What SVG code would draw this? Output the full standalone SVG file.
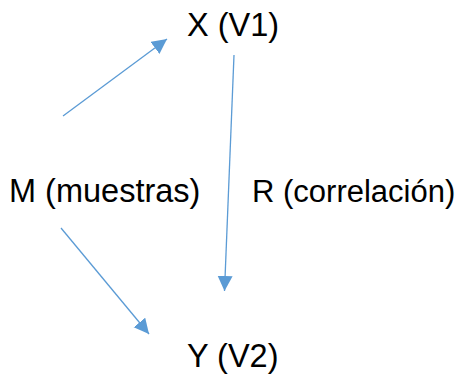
<svg xmlns="http://www.w3.org/2000/svg" width="466" height="375" viewBox="0 0 466 375">
<style>
.lbl{font-family:"Liberation Sans",Arial,sans-serif;font-size:32.5px;fill:#000}
.conn{stroke:#5B9BD5;stroke-width:1.3;fill:none}
</style>
<defs>
<marker id="ah" markerUnits="userSpaceOnUse" markerWidth="16" markerHeight="16" refX="15" refY="7.5" orient="auto" viewBox="0 0 16 16">
<path d="M0,0 L15,7.5 L0,15 z" fill="#5B9BD5"/>
</marker>
</defs>
<rect width="466" height="375" fill="#fff"/>
<g id="connectors">
<line class="conn" x1="63" y1="116" x2="167" y2="39" marker-end="url(#ah)"/>
<line class="conn" x1="234" y1="55" x2="224.5" y2="291" marker-end="url(#ah)"/>
<line class="conn" x1="61" y1="228" x2="149" y2="334" marker-end="url(#ah)"/>
</g>
<g id="nodeX"><text class="lbl" x="187" y="36">X (V1)</text></g>
<g id="nodeM"><text class="lbl" x="9" y="202">M (muestras)</text></g>
<g id="nodeR"><text class="lbl" x="252" y="202" style="font-size:31px">R (correlación)</text></g>
<g id="nodeY"><text class="lbl" x="187" y="367">Y (V2)</text></g>
</svg>
